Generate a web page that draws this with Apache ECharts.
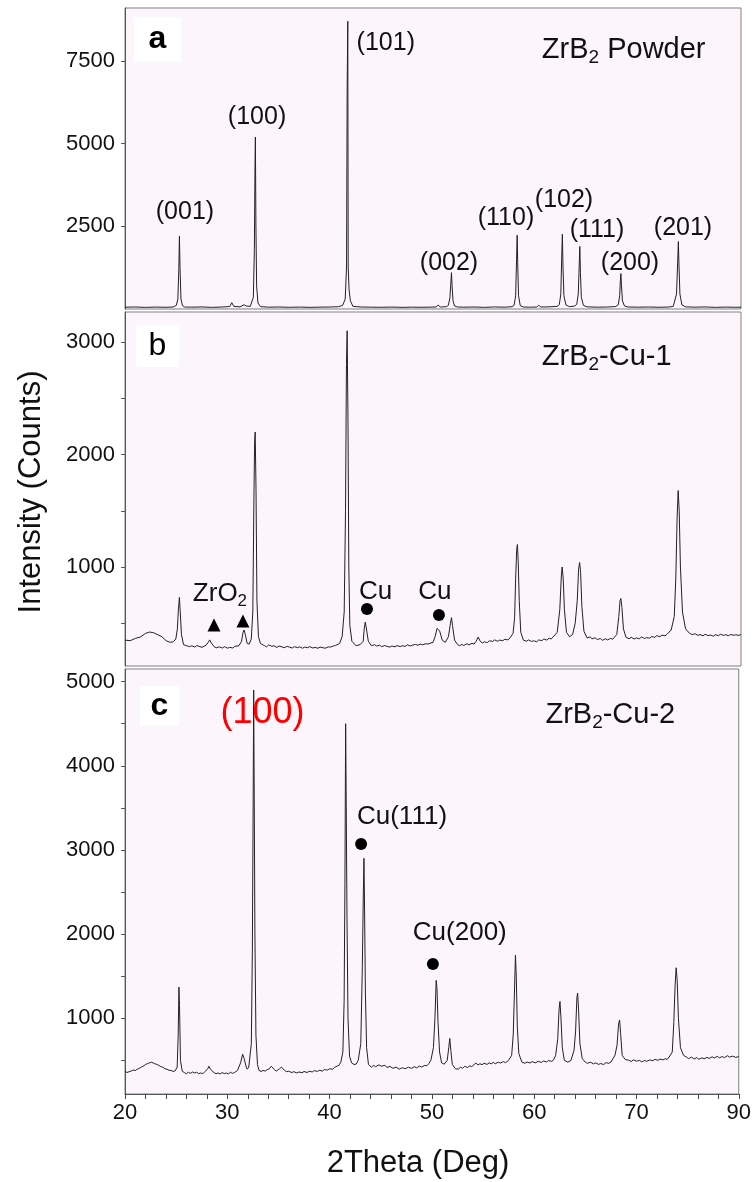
<!DOCTYPE html>
<html>
<head>
<meta charset="utf-8">
<script src="https://cdn.jsdelivr.net/npm/echarts@6/dist/echarts.min.js"></script>
<style>
  html, body { margin: 0; padding: 0; background: #fff; }
  #chart { width: 754px; height: 1182px; }
</style>
</head>
<body>
<div id="chart"></div>
<script>
// XRD scans, [2theta, counts]
const powderScan = [
  [20, 55], [21, 60], [22, 50], [23, 58], [24, 52], [24.7, 60],
  [24.8, 70], [25.0, 110], [25.15, 300], [25.24, 1200], [25.3, 2200], [25.36, 1250], [25.45, 300], [25.6, 100], [25.8, 60],
  [26.5, 55], [27.5, 62], [28.5, 50], [29.5, 60], [30.2, 75], [30.4, 190], [30.6, 80], [31.2, 65], [31.6, 130], [31.8, 90], [32.2, 80],
  [32.3, 110], [32.5, 350], [32.6, 1800], [32.66, 4200], [32.7, 5200], [32.75, 2600], [32.82, 700], [32.95, 180], [33.2, 70],
  [34, 55], [35, 60], [36, 52], [37, 58], [38, 50], [39, 56], [40, 60], [40.8, 70],
  [41.2, 110], [41.45, 300], [41.58, 1300], [41.64, 6700], [41.7, 8700], [41.74, 1300], [41.82, 600], [41.95, 250], [42.2, 80],
  [43, 60], [44, 55], [45, 52], [46, 58], [47, 50], [48, 56], [49, 52], [50.3, 60], [50.5, 120], [50.7, 60], [51.3, 70],
  [51.5, 110], [51.65, 350], [51.75, 850], [51.8, 1100], [51.86, 700], [51.95, 250], [52.1, 90], [52.4, 60],
  [53, 55], [54, 60], [55, 50], [56, 62], [57, 55], [57.7, 70],
  [57.9, 110], [58.05, 400], [58.14, 1500], [58.2, 2230], [58.25, 1400], [58.33, 400], [58.5, 100], [58.8, 60],
  [59.5, 55], [60.1, 60], [60.3, 110], [60.5, 60], [61.3, 65], [62.1, 80],
  [62.3, 130], [62.45, 450], [62.54, 1600], [62.6, 2260], [62.66, 1300], [62.75, 400], [62.95, 120], [63.3, 70], [63.8, 90],
  [64.0, 140], [64.15, 450], [64.24, 1300], [64.3, 1890], [64.36, 1100], [64.45, 350], [64.65, 110], [65.0, 65],
  [66, 55], [67, 60], [67.8, 75],
  [68.05, 130], [68.18, 400], [68.25, 850], [68.3, 1070], [68.36, 700], [68.45, 250], [68.65, 90], [69.0, 60],
  [70, 55], [71, 60], [72, 52], [73, 60], [73.4, 80],
  [73.55, 130], [73.72, 450], [73.83, 1400], [73.9, 2040], [73.96, 1300], [74.05, 450], [74.25, 120], [74.6, 65],
  [75.5, 55], [76.5, 62], [77.5, 50], [78.5, 58], [79.5, 52], [80, 55]
];

const cu1Scan = [
  [20, 350], [20.5, 345], [21, 365], [21.5, 378], [22, 410], [22.4, 422], [22.8, 415], [23.2, 398], [23.6, 380], [24, 345], [24.4, 330], [24.7, 335],
  [24.95, 360], [25.1, 450], [25.2, 620], [25.3, 730], [25.38, 600], [25.5, 400], [25.7, 310], [26, 300],
  [26.3, 292], [26.5, 300], [26.8, 288], [27, 302], [27.3, 292], [27.5, 286], [27.9, 305],
  [28.1, 330], [28.25, 352], [28.4, 325], [28.7, 290],
  [28.9, 282], [29.2, 290], [29.5, 280], [29.7, 292], [30, 278], [30.2, 286], [30.5, 280], [30.7, 295], [31.1, 300],
  [31.35, 340], [31.5, 420], [31.6, 440], [31.72, 400], [31.9, 320], [32.1, 315],
  [32.3, 360], [32.45, 600], [32.55, 1550], [32.62, 2100], [32.68, 2200], [32.76, 1700], [32.85, 700], [33.0, 380], [33.2, 320],
  [33.6, 300], [33.8, 290], [34, 308], [34.3, 295], [34.5, 300], [34.8, 285], [35, 298], [35.3, 290], [35.5, 282], [35.8, 295],
  [36, 288], [36.3, 280], [36.5, 292], [36.8, 283], [37, 290], [37.3, 278], [37.5, 288], [37.8, 282], [38, 292], [38.3, 280],
  [38.5, 285], [38.8, 278], [39, 288], [39.3, 282], [39.5, 278], [39.8, 290], [40, 288], [40.3, 298], [40.5, 302], [40.9, 320], [41.15, 380],
  [41.35, 600], [41.48, 1500], [41.57, 2800], [41.64, 3100], [41.72, 2300], [41.8, 1000], [41.9, 480], [42.1, 340], [42.5, 300],
  [42.9, 310], [43.2, 340],
  [43.3, 450], [43.4, 510], [43.5, 460], [43.7, 340], [44.0, 300],
  [44.3, 310], [44.5, 298], [44.8, 305], [45, 292], [45.3, 302], [45.5, 295], [45.8, 288], [46, 298], [46.3, 290], [46.5, 302],
  [46.8, 292], [47, 300], [47.3, 295], [47.5, 308], [47.8, 298], [48, 305], [48.3, 312], [48.5, 305], [48.8, 315], [49, 308],
  [49.3, 318], [49.5, 315], [49.8, 325], [50, 330],
  [50.2, 380], [50.4, 455], [50.5, 470], [50.65, 430], [50.9, 350], [51.2, 330], [51.5, 380],
  [51.7, 500], [51.8, 550], [51.9, 480], [52.1, 350], [52.4, 310],
  [52.6, 300], [52.8, 312], [53, 302], [53.3, 318], [53.5, 308], [53.8, 322], [54, 315], [54.2, 340], [54.4, 378], [54.6, 340],
  [54.8, 325], [55, 335], [55.3, 328], [55.5, 345], [55.8, 338], [56, 352], [56.3, 340], [56.5, 350], [56.8, 345], [57, 358],
  [57.3, 352], [57.5, 370], [57.8, 410],
  [57.95, 550], [58.05, 900], [58.15, 1150], [58.22, 1200], [58.3, 1050], [58.4, 700], [58.55, 420], [58.8, 350],
  [59.1, 340], [59.3, 352], [59.6, 338], [59.8, 345], [60.1, 335], [60.3, 352], [60.6, 345], [60.8, 360], [61.1, 350],
  [61.3, 368], [61.5, 360], [61.7, 378], [62.1, 420],
  [62.35, 620], [62.5, 920], [62.58, 1000], [62.68, 900], [62.8, 620], [63.0, 420], [63.3, 380], [63.6, 400], [63.85, 500],
  [64.05, 700], [64.18, 980], [64.28, 1040], [64.38, 950], [64.5, 650], [64.7, 430], [65, 370],
  [65.3, 378], [65.5, 362], [65.8, 370], [66, 355], [66.3, 365], [66.5, 348], [66.8, 362], [67, 352], [67.3, 365], [67.5, 358], [67.9, 400],
  [68.1, 560], [68.22, 700], [68.3, 720], [68.4, 640], [68.55, 450], [68.8, 375],
  [69.1, 362], [69.3, 375], [69.6, 360], [69.8, 370], [70.1, 362], [70.3, 378], [70.6, 365], [70.8, 372], [71.1, 368],
  [71.3, 382], [71.6, 375], [71.8, 390], [72.1, 380], [72.3, 395], [72.6, 388], [72.8, 402], [73.2, 440], [73.5, 560],
  [73.65, 900], [73.78, 1450], [73.88, 1680], [73.98, 1500], [74.1, 1000], [74.3, 600], [74.6, 450], [75, 410],
  [75.3, 398], [75.5, 408], [75.8, 392], [76, 400], [76.3, 388], [76.5, 402], [76.8, 390], [77, 396], [77.3, 385], [77.5, 398],
  [77.8, 390], [78, 402], [78.3, 392], [78.5, 398], [78.8, 390], [79, 400], [79.3, 393], [79.5, 398], [79.8, 392], [80, 400]
];

const cu2Scan = [
  [20, 370], [20.2, 355], [20.4, 365], [20.6, 372], [20.8, 385], [21, 378], [21.2, 395], [21.4, 405], [21.6, 420], [21.8, 432],
  [22, 450], [22.2, 462], [22.4, 470], [22.6, 478], [22.9, 460], [23.1, 452], [23.3, 440], [23.5, 425], [23.7, 418], [23.9, 400],
  [24.1, 395], [24.3, 382], [24.5, 380], [24.7, 368], [24.9, 375],
  [25.1, 420], [25.2, 800], [25.27, 1370], [25.33, 1150], [25.42, 500], [25.6, 370], [25.8, 355],
  [26, 340], [26.2, 358], [26.4, 345], [26.6, 362], [26.8, 350], [27.0, 358], [27.2, 342], [27.4, 350], [27.6, 340], [27.8, 365],
  [28.1, 400], [28.2, 430], [28.35, 395], [28.7, 355],
  [28.9, 340], [29.1, 350], [29.3, 338], [29.5, 355], [29.7, 342], [29.9, 350], [30.1, 338], [30.3, 358], [30.5, 345], [30.7, 355], [31.0, 380],
  [31.3, 470], [31.5, 573], [31.65, 520], [31.85, 420], [31.95, 395], [32.1, 420],
  [32.35, 700], [32.45, 1800], [32.53, 3600], [32.58, 4900], [32.63, 3700], [32.7, 2000], [32.8, 800], [32.95, 450], [33.1, 380],
  [33.3, 368], [33.5, 380], [33.7, 372], [33.9, 390], [34.1, 398], [34.3, 430], [34.6, 390], [34.8, 372], [35.1, 400], [35.3, 420],
  [35.6, 380], [35.8, 365], [36.0, 370], [36.3, 355], [36.5, 365], [36.8, 350], [37, 362], [37.3, 352], [37.5, 368], [37.8, 355],
  [38, 370], [38.3, 362], [38.5, 378], [38.8, 368], [39, 382], [39.3, 372], [39.5, 390], [39.8, 385], [40, 400], [40.3, 395],
  [40.5, 418], [40.9, 440], [41.1, 478], [41.3, 600],
  [41.42, 1200], [41.5, 2600], [41.57, 4500], [41.63, 3500], [41.7, 2200], [41.8, 1000], [41.95, 550], [42.15, 470], [42.4, 450], [42.6, 455], [42.8, 500],
  [43.05, 700], [43.2, 1600], [43.3, 2500], [43.36, 2900], [43.42, 2300], [43.5, 1300], [43.62, 650], [43.8, 450], [44.1, 418],
  [44.3, 440], [44.5, 425], [44.8, 445], [45.1, 430], [45.4, 442], [45.6, 415], [45.9, 428], [46.2, 405], [46.5, 420], [46.8, 395],
  [47.1, 412], [47.4, 400], [47.7, 418], [48, 405], [48.3, 425], [48.5, 410], [48.8, 432], [49, 420], [49.3, 440], [49.5, 435],
  [49.7, 460], [49.9, 500],
  [50.15, 650], [50.3, 1000], [50.42, 1450], [50.5, 1350], [50.6, 950], [50.75, 600], [50.95, 470], [51.2, 454], [51.5, 500],
  [51.65, 650], [51.75, 760], [51.85, 620], [52.0, 450], [52.3, 400], [52.6, 395],
  [52.8, 420], [53, 405], [53.2, 428], [53.5, 415], [53.7, 435], [53.9, 425], [54.1, 445], [54.3, 470], [54.5, 445], [54.7, 460],
  [54.9, 448], [55.1, 465], [55.4, 452], [55.6, 470], [55.8, 458], [56, 475], [56.2, 460], [56.5, 478], [56.7, 468], [57, 485],
  [57.2, 472], [57.5, 500], [57.8, 560],
  [57.95, 800], [58.07, 1300], [58.17, 1750], [58.25, 1500], [58.35, 900], [58.5, 580], [58.8, 478],
  [59.1, 465], [59.3, 480], [59.6, 468], [59.8, 485], [60.1, 470], [60.4, 488], [60.7, 475], [60.9, 492], [61.2, 480],
  [61.4, 498], [61.7, 488], [61.9, 505], [62.1, 560],
  [62.3, 750], [62.43, 1100], [62.52, 1200], [62.62, 1000], [62.75, 650], [62.95, 500], [63.3, 478], [63.6, 500], [63.9, 620],
  [64.05, 850], [64.18, 1250], [64.25, 1300], [64.34, 1100], [64.47, 700], [64.7, 520], [65, 478],
  [65.2, 465], [65.5, 478], [65.8, 458], [66, 470], [66.3, 452], [66.5, 462], [66.8, 450], [67, 472], [67.3, 465], [67.5, 480], [67.9, 560],
  [68.1, 680], [68.25, 930], [68.35, 980], [68.45, 820], [68.6, 560], [68.9, 510], [69.2, 502],
  [69.5, 488], [69.7, 505], [70, 490], [70.3, 500], [70.5, 482], [70.8, 498], [71, 488], [71.3, 505], [71.6, 495], [71.8, 512],
  [72.1, 500], [72.3, 515], [72.6, 505], [72.8, 520], [73, 510], [73.2, 540], [73.5, 600],
  [73.65, 950], [73.78, 1400], [73.88, 1600], [73.98, 1450], [74.1, 1000], [74.3, 650], [74.6, 560], [74.9, 537],
  [75.1, 520], [75.4, 540], [75.6, 515], [75.9, 532], [76.1, 512], [76.4, 530], [76.6, 518], [76.9, 535], [77.1, 522], [77.4, 542],
  [77.6, 528], [77.9, 548], [78.1, 530], [78.4, 545], [78.6, 532], [78.9, 555], [79.1, 538], [79.4, 550], [79.7, 535], [80, 545]
];

// axis ranges and ticks
const xTickValues = [20, 22, 24, 26, 28, 30, 32, 34, 36, 38, 40, 42, 44, 46, 48, 50, 52, 54, 56, 58,
  60, 62, 64, 66, 68, 70, 72, 74, 76, 78, 80];
const yRanges = [[0, 9100], [120, 3267], [100, 5150]];
const yLabelValues = [[2500, 5000, 7500], [1000, 2000, 3000], [1000, 2000, 3000, 4000, 5000]];
const yTickValues = [
  [2500, 5000, 7500],
  [500, 1000, 1500, 2000, 2500, 3000],
  [500, 1000, 1500, 2000, 2500, 3000, 3500, 4000, 4500, 5000]
];

// annotations: [text, 2theta, counts]
const powderLabels = [
  ['(001)', 25.84, 2930], ['(100)', 32.86, 5800], ['(101)', 45.4, 8040],
  ['(002)', 51.56, 1390], ['(110)', 57.11, 2750], ['(102)', 62.76, 3300],
  ['(111)', 65.97, 2390], ['(200)', 69.19, 1390], ['(201)', 74.35, 2450]
];
const cu1Labels = [['{m|ZrO}{s|2}', 29.25, 760], ['Cu', 44.4, 780], ['Cu', 50.19, 780]];
const cu1Triangles = [[28.67, 485], [31.49, 520]];
const cu1Dots = [[43.57, 627], [50.58, 573]];
const cu2Labels = [['Cu(111)', 47.08, 3390], ['Cu(200)', 52.73, 2010]];
const cu2Dots = [[43.08, 3070], [50.1, 1644]];
const cu2Red = [['(100)', 33.44, 4626]];
const sampleNames = [
  ['{m|ZrB}{s|2}{m| Powder}', 60.6, 7830],
  ['{m|ZrB}{s|2}{m|-Cu-1}', 60.6, 2867],
  ['{m|ZrB}{s|2}{m|-Cu-2}', 61.1, 4603]
];
const panelLetters = ['a', 'b', 'c'];

const FONT = '"Liberation Sans", Arial, sans-serif';
const TXT = '#111';
const grids = [
  {left: 125, right: 13, top: 8, height: 301},
  {left: 125, right: 13, top: 312, height: 354},
  {left: 125, right: 13, top: 669, height: 425}
];

let dom = document.getElementById('chart');
let myChart = echarts.init(dom);

function richStyle(size, subSize) {
  return {
    m: {fontSize: size, lineHeight: size + 5, fontFamily: FONT, color: TXT},
    s: {fontSize: subSize, fontFamily: FONT, color: TXT, verticalAlign: 'bottom'}
  };
}

function textSeries(idx, list, opts) {
  opts = opts || {};
  return {
    type: 'scatter', xAxisIndex: idx, yAxisIndex: idx,
    symbolSize: 0, silent: true, z: 5,
    itemStyle: {opacity: 1},
    data: list.map(d => [d[1], d[2], d[0]]),
    label: {
      show: true, position: [0, 0],
      align: opts.align || 'center', verticalAlign: 'middle',
      formatter: p => p.data[2],
      fontFamily: FONT, fontSize: opts.fontSize || 25,
      color: opts.color || TXT, rich: opts.rich
    }
  };
}

function markerSeries(idx, list, symbol, size) {
  return {
    type: 'scatter', xAxisIndex: idx, yAxisIndex: idx,
    symbol: symbol, symbolSize: size, silent: true, z: 5,
    itemStyle: {color: '#000', opacity: 1},
    data: list
  };
}

let option = {
  animation: false,
  backgroundColor: '#fff',
  grid: grids.map(g => Object.assign({
    show: true, backgroundColor: '#fcf5fc', borderColor: '#808080', borderWidth: 1
  }, g)),
  xAxis: [0, 1, 2].map(i => ({
    gridIndex: i, type: 'value', min: 20, max: 80, interval: 10,
    axisLine: {show: i === 2, lineStyle: {color: '#555'}},
    axisTick: {show: i === 2, length: 5, customValues: xTickValues, lineStyle: {color: '#444', width: 1}},
    splitLine: {show: false},
    axisLabel: {
      show: i === 2, margin: 8, fontFamily: FONT, fontSize: 22, color: TXT,
      formatter: v => (v === 80 ? '90' : String(v))
    }
  })),
  yAxis: [0, 1, 2].map(i => ({
    gridIndex: i, type: 'value', min: yRanges[i][0], max: yRanges[i][1],
    axisLine: {show: true, lineStyle: {color: '#555'}},
    axisTick: {show: true, length: 4, customValues: yTickValues[i], lineStyle: {color: '#555'}},
    splitLine: {show: false},
    axisLabel: {
      margin: 10, fontFamily: FONT, fontSize: 22, color: TXT,
      customValues: yLabelValues[i],
      formatter: v => String(v)
    }
  })),
  graphic: [
    {type: 'text', x: 31, y: 492, rotation: Math.PI / 2,
      style: {text: 'Intensity (Counts)', font: '31px ' + FONT, fill: TXT, align: 'center', verticalAlign: 'middle'}},
    {type: 'text', x: 418, y: 1163,
      style: {text: '2Theta (Deg)', font: '31px ' + FONT, fill: TXT, align: 'center', verticalAlign: 'middle'}}
  ].concat(panelLetters.map((l, i) => {
    const box = [[134, 17, 47, 45], [136, 325, 43, 42], [140, 686, 39, 40]][i];
    return {
      type: 'group',
      children: [
        {type: 'rect', shape: {x: box[0], y: box[1], width: box[2], height: box[3]}, style: {fill: '#fff'}},
        {type: 'text', x: box[0] + box[2] / 2, y: box[1] + box[3] / 2,
          style: {text: l, font: (l === 'b' ? '' : 'bold ') + '32px ' + FONT, fill: '#000',
            align: 'center', verticalAlign: 'middle'}}
      ]
    };
  })),
  series: [
    {type: 'line', xAxisIndex: 0, yAxisIndex: 0, data: powderScan, showSymbol: false,
      lineStyle: {color: '#222', width: 1}},
    {type: 'line', xAxisIndex: 1, yAxisIndex: 1, data: cu1Scan, showSymbol: false,
      lineStyle: {color: '#222', width: 1}},
    {type: 'line', xAxisIndex: 2, yAxisIndex: 2, data: cu2Scan, showSymbol: false,
      lineStyle: {color: '#222', width: 1}},
    textSeries(0, powderLabels),
    textSeries(1, cu1Labels, {fontSize: 26, rich: richStyle(26, 17)}),
    textSeries(2, cu2Labels, {fontSize: 26}),
    textSeries(2, cu2Red, {color: '#ff0000', fontSize: 36}),
    textSeries(0, [sampleNames[0]], {align: 'left', rich: richStyle(29, 19)}),
    textSeries(1, [sampleNames[1]], {align: 'left', rich: richStyle(29, 19)}),
    textSeries(2, [sampleNames[2]], {align: 'left', rich: richStyle(29, 19)}),
    markerSeries(1, cu1Triangles, 'triangle', 13),
    markerSeries(1, cu1Dots, 'circle', 12),
    markerSeries(2, cu2Dots, 'circle', 12)
  ]
};

myChart.setOption(option);
</script>
</body>
</html>
